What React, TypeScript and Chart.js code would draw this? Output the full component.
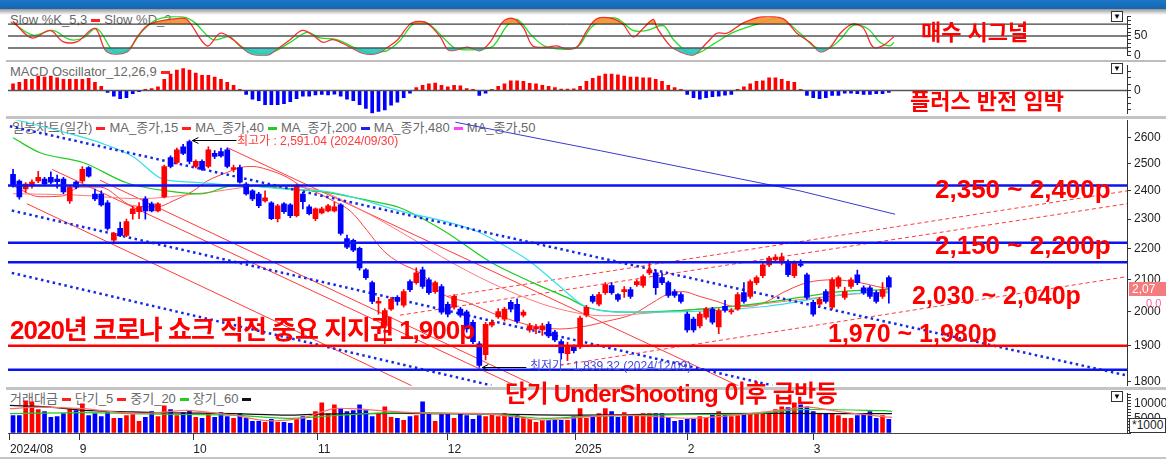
import React, { useEffect, useRef } from "react";
import { Chart, registerables } from "chart.js";
Chart.register(...registerables);

const FONT = "'Liberation Sans', 'Noto Sans CJK KR', Arial, sans-serif";

// ---------------- data ----------------
const opens = [2461,2436,2407,2418,2436,2443,2450,2443,2443,2364, 2432,2436,2486,2389,2389,2357,2228,2268,2244,2319, 2326,2371,2354,2329,2378,2524,2505,2565,2585,2490, 2509,2490,2540,2547,2553,2479,2486,2425,2400,2389, 2364,2357,2302,2354,2350,2312,2389,2343,2302,2322, 2329,2329,2350,2234,2228,2201,2131,2090,2026,1960, 2008,2044,2020,2093,2090,2131,2099,2062,2078,2023, 2014,2008,2000,1969,1906,1875,1960,1985,1978,2029, 2023,1990,1946,1949,1946,1963,1940,1912,1878,1897, 1897,1990,2047,2023,2059,2081,2053,2062,2068,2084, 2081,2121,2121,2106,2090,2062,2053,1993,1978,1958, 1984,2008,1955,2017,2000,2008,2059,2047,2090,2112, 2147,2163,2153,2157,2112,2150,2115,2029,2023,2062, 2014,2078,2044,2078,2115,2074,2074,2059,2047,2106];
const highs = [2479,2440,2430,2440,2472,2450,2470,2458,2450,2418, 2436,2490,2490,2407,2400,2365,2255,2290,2300,2345, 2358,2380,2360,2358,2495,2530,2560,2575,2591.04,2515, 2515,2565,2550,2560,2560,2495,2495,2430,2405,2395, 2400,2362,2352,2358,2355,2425,2395,2350,2340,2342, 2352,2360,2355,2245,2232,2205,2135,2095,2044,2010, 2044,2050,2068,2099,2137,2140,2105,2095,2084,2030, 2053,2014,2005,1975,1912,1969,1975,2010,2014,2035, 2040,2005,1966,1963,1966,1970,1945,1918,1910,1903, 1987,2020,2053,2060,2090,2090,2056,2078,2075,2099, 2115,2153,2128,2121,2095,2068,2059,1999,1984,1999, 2014,2014,2010,2035,2010,2059,2090,2099,2112,2153, 2175,2180,2185,2163,2160,2163,2120,2035,2044,2068, 2105,2112,2075,2105,2130,2080,2080,2065,2090,2112];
const lows = [2414,2370,2395,2410,2430,2418,2425,2410,2390,2355, 2407,2430,2450,2365,2345,2262,2218,2240,2240,2300, 2302,2300,2325,2325,2375,2485,2500,2535,2500,2485, 2475,2485,2520,2525,2485,2470,2428,2385,2365,2340, 2360,2298,2290,2320,2305,2308,2336,2315,2295,2318, 2325,2325,2245,2200,2190,2130,2100,2025,1993,1906, 2004,2020,2014,2062,2085,2072,2053,2056,1993,1985, 2008,1984,1940,1906,1839.32,1860,1955,1980,1972,2000, 1966,1985,1940,1935,1930,1924,1912,1862,1858,1880, 1892,1985,2026,2018,2053,2053,2032,2044,2041,2078, 2075,2115,2053,2084,2044,2044,2026,1940,1940,1952, 1978,1963,1935,1999,1993,2004,2026,2041,2084,2106, 2141,2157,2147,2109,2106,2140,2038,1987,2017,2026, 2008,2072,2038,2072,2084,2053,2041,2026,2041,2026];
const closes = [2418,2378,2425,2432,2450,2425,2432,2434,2396,2414, 2414,2479,2454,2371,2350,2268,2251,2244,2292,2336, 2343,2329,2329,2354,2490,2490,2553,2540,2509,2509, 2479,2553,2528,2530,2490,2486,2432,2389,2371,2347, 2375,2302,2347,2326,2312,2418,2361,2319,2336,2336, 2347,2343,2251,2205,2195,2137,2106,2032,2032,2004, 2038,2032,2062,2068,2121,2078,2059,2090,1999,1993, 2047,1990,1949,1912,1845,1963,1969,2001,2008,2008, 1972,1999,1958,1955,1958,1929,1917,1880,1897,1886, 1981,2014,2032,2053,2084,2059,2038,2068,2047,2093, 2109,2131,2074,2090,2050,2050,2032,1946,1946,1993, 2008,1969,2004,2004,2004,2053,2032,2093,2106,2147, 2169,2172,2172,2115,2153,2145,2044,1993,2038,2032, 2099,2106,2062,2099,2090,2059,2047,2032,2068,2076];

const volumes = [5940,5940,10890,10560,7920,7260,5280,5610,6600,8250, 7590,9900,5940,6600,5610,6930,4950,4950,5940,6270, 3960,5280,7260,5610,9240,7920,5940,6930,7590,5280, 4950,6600,5280,6930,5610,4950,6600,4950,3960,3960, 3630,4620,3630,3630,3300,4620,5610,4290,7260,10230, 6600,9570,8250,7260,7590,9570,7590,5610,6600,8910, 5280,4950,4290,5610,5940,10560,6600,3960,6600,6600, 4950,6600,5940,4620,5940,5610,6270,5610,6600,5940, 5940,5280,4620,3630,4290,4290,4290,4290,4290,5610, 8250,4950,5280,6600,8250,7260,5280,6930,5940,5940, 6600,6600,6600,6600,5280,3960,4290,4620,4620,5610, 5280,6270,7260,6600,5610,5940,6270,6600,6600,6600, 6600,7920,8910,8580,10230,9570,8910,7260,6600,6600, 6600,5940,4950,4950,5940,6600,7260,4950,5940,4620];

const macdOsc = [3.65,4.5,6.15,6.15,7.85,7.35,7.85,7,6.15,6.15, 6.15,6.15,6.65,4.5,2.35,-1,-3,-4.35,-3.85,-1.65, -0.65,0.65,1.15,2,6.15,9,11.15,12,11.15,9.5, 8.35,8.35,7.35,6.15,4.5,2.85,0.65,-2.15,-4.65,-5.5, -7.65,-7.65,-7.65,-7.15,-6,-4.35,-3,-3,-2.35,-2.15, -2.35,-2,-3,-4.65,-5.5,-7.65,-9.65,-12.15,-11.35,-10.5, -8,-6.35,-3.85,-1.35,1.65,2.85,3.65,4.15,2.85,2, 2.85,2.65,1.15,0.65,-2.65,-1.35,0.65,2.35,3.65,5.35, 5.35,5,4,3.65,2.85,2.35,1.65,0.85,0.85,1, 2.35,5,6.65,7.85,9,9,8.65,7.85,7.35,7.35, 7,7,6.15,5,2.85,1.65,0.65,-2.15,-3.85,-4.65, -3.85,-3.35,-3,-2.5,-2.15,0.65,2,3.65,5,5.35, 7,7,6.15,5,4.5,0.65,-2.65,-3.85,-4.35,-3.85, -2.65,-2.65,-1.35,-1.35,-1.65,-2.15,-2.15,-1.65,-1.65,-1];

const stochK = [[0,87],[3,45],[5.9,64],[7.9,36],[10.2,36],[13,69],[14.9,10],[18.1,10],[19.7,48],[21.7,80],[26,94],[27.6,92],[30.8,25],[32.9,57],[34.9,41],[37.6,6],[40.3,1],[41.9,17],[44,41],[45.9,64],[47.6,52],[49.2,34],[50.8,41],[53.5,22],[55.6,6],[57.8,6],[59.5,22],[61,40],[63,80],[64.3,87],[65.7,83],[67.8,48],[68.9,17],[69.8,13],[72.1,22],[74.1,13],[75.7,34],[77.8,87],[79.4,94],[81,71],[82.5,25],[84.8,22],[86.3,25],[87.9,17],[89.5,22],[91.1,64],[92.7,94],[95.2,94],[96.8,80],[98.4,48],[100,69],[101.6,92],[102.2,71],[104.3,25],[105.9,10],[107.9,1],[110.2,34],[111.7,57],[113.3,57],[115.9,83],[119,99],[122.2,94],[124.4,57],[126.5,34],[128.1,10],[129.7,22],[131.3,57],[133.2,80],[134.9,71],[136.5,22],[138,25],[139.8,48]];
const stochD = [[0,83],[3.2,52],[6.3,64],[9,41],[11.1,45],[13.3,69],[15.9,13],[18.1,13],[20.6,64],[22.9,92],[26.5,99],[28.6,87],[31.7,41],[34.4,48],[36,25],[39.2,6],[41.3,10],[44,34],[46.7,59],[48.7,45],[51.4,41],[54,22],[57.1,6],[58.3,10],[59.4,13],[61.4,38],[63.5,80],[65.7,83],[68.9,36],[70.5,17],[74.1,17],[76.2,25],[78.4,76],[80,92],[82.5,48],[84.8,22],[89.5,22],[91.6,69],[93.7,92],[95.9,94],[98.4,64],[100.6,64],[103.2,76],[104.8,41],[107,10],[108.6,6],[111.1,29],[114.3,59],[118.1,80],[121.7,94],[124.9,57],[127,25],[129.2,17],[131.3,41],[133.3,76],[135.6,69],[137.6,34],[139.2,25],[139.8,34]];
const stochLevels = [80, 50, 20];

const ma15 = [[0,2418],[4.3,2379],[7.9,2382],[10.6,2414],[13.8,2414],[19,2347],[22.9,2343],[25.4,2364],[28.6,2400],[30.8,2436],[34,2468],[36,2486],[38.1,2490],[40.3,2479],[43.5,2450],[46,2414],[48.7,2389],[50.8,2364],[53.5,2329],[56.2,2261],[58.7,2195],[61.4,2153],[64.6,2121],[68.3,2053],[72.1,2029],[77.3,1987],[82.5,1958],[86.8,1949],[91.1,1958],[94.3,1972],[98.4,1993],[101.6,2029],[103.8,2053],[106.3,2062],[109,2047],[111.7,2032],[114.3,2017],[117,2017],[119.7,2032],[122.2,2059],[126,2090],[130.2,2099],[134.4,2090],[137.1,2078],[139,2071]];
const ma40 = [[0,2390],[10,2385],[20,2372],[30,2392],[40,2418],[48,2405],[55,2335],[62,2250],[70,2150],[78,2070],[86,2012],[94,1988],[102,1998],[110,2010],[118,2022],[126,2040],[134,2055],[139,2062]];
const ma200 = [[0,2600],[4.3,2542],[11.1,2505],[18.1,2429],[24.4,2400],[29.7,2389],[34.9,2418],[40.3,2414],[45.6,2404],[50.3,2393],[56.7,2364],[61.4,2340],[68.3,2261],[75.7,2157],[82.5,2090],[87.9,2044],[91.1,2014],[94.3,2002],[98.4,1999],[103.8,2002],[109,2008],[114.3,2017],[119.7,2029],[124.9,2044],[131.3,2062],[139,2068]];
const ma50 = [[-0.8,2680],[8.6,2619],[13.8,2581],[19,2528],[23.8,2443],[28.6,2432],[32.4,2425],[37.6,2418],[42.9,2407],[50.3,2396],[61.4,2329],[73.3,2261],[77.3,2218],[82.1,2157],[86.8,2078],[91.1,2014],[98.4,1999],[109,2002],[119.7,2017],[124.9,2032],[131.7,2053],[139,2059]];
const ma480 = [[70.2,2662],[93.2,2550],[109,2474],[124.9,2400],[140,2317]];

const supportBlue = [2420, 2220, 2155, 1833];
const supportRed = [1900];
const blueDotLines = [[[-0.5,2646],[176.8,1817]], [[-0.2,2330],[120.5,1790]], [[-0.2,2121],[75.9,1790]]];
const redChannelLines = [[[6.2,2479],[79.8,1789]], [[2.2,2354],[63.3,1789]], [[13.8,2439],[82.9,1789]], [[34,2562],[115.1,1789]]];
const redDashLines = [[[67.8,2044],[176.8,2400]], [[61.4,1990],[176.8,2354]], [[86.8,1845],[176.8,2109]]];

const volMA5 = [[-0.5,8250],[4.3,8800],[11.1,8250],[19,6600],[24.4,7150],[27.6,7700],[34.9,6050],[40.3,4180],[45.6,4950],[50.8,8250],[53.5,8250],[56.2,7920],[61.4,7150],[66.7,6600],[74.7,6600],[77.3,6050],[84.1,4400],[90.9,5500],[97.6,6050],[107.8,4950],[114.6,6050],[121.4,7700],[126.1,8800],[131.5,7150],[138.3,5500],[139.5,5300]];
const volMA20 = [[-0.5,6600],[11.1,6930],[19,6600],[27,6270],[34.9,6050],[43.5,4950],[48.3,5500],[56.2,6600],[64.1,6930],[77.3,6200],[84.1,4950],[90.9,5610],[107.8,6270],[118,6600],[124.8,7920],[138.3,7590],[139.5,7300]];
const volMA60 = [[-0.5,9350],[5.9,8800],[11.1,7700],[19,7150],[24.4,6820],[34.9,6600],[43.5,6050],[48.3,6380],[56.2,6600],[66.7,6600],[77.3,6380],[90.9,6050],[111.2,6600],[131.5,6600],[139.5,6600]];

const priceTicks = [1800, 1900, 2000, 2100, 2200, 2300, 2400, 2500, 2600];
const stochTicks = [0, 10, 20, 30, 40, 50, 60, 70, 80, 90, 100];
const stochTickLabels = ["0", "50"];
const macdTicks = [-10.5, -7, -3.5, 0, 3.5, 7, 10.5];
const volTicks = [0, 1000, 2000, 3000, 4000, 5000, 6000, 7000, 8000, 9000, 10000, 11000, 12000, 13000];
const volTickLabels = ["5000", "10000"];
const monthTickPos = [-0.5, 10.6, 28.6, 48.4, 69, 89.2, 107.1, 127.1];
const monthTickLabels = ["2024/08", "9", "10", "11", "12", "2025", "2", "3"];
const extremeMarks = [[28, 2591.04], [74, 1839.32]];

// ---------------- helpers ----------------
const X_MIN = -0.8;
const X_MAX = 176.8;
const RED = "#ff0000";
const BLUE = "#0000ff";
const pts = (arr: number[][]) => arr.map(([x, y]) => ({ x, y }));
const hline = (v: number) => [{ x: X_MIN, y: v }, { x: X_MAX, y: v }];
const candleColor = (i: number) => (closes[i] >= opens[i] ? RED : BLUE);

const xHidden = { type: "linear", min: X_MIN, max: X_MAX, display: false, offset: false, grid: { offset: false } };
const rightAxis = (extra: any) => ({
  position: "right",
  afterFit: (s: any) => { s.width = 39; },
  border: { display: true, color: "#333", width: 1 },
  grid: { drawOnChartArea: false, drawTicks: true, tickLength: 4, color: "#333" },
  ...extra,
  ticks: { color: "#222", font: { size: 12, family: FONT }, padding: 3, autoSkip: false, ...(extra.ticks || {}) },
});
const fixedTicks = (vals: number[]) => (s: any) => { s.ticks = vals.map((v) => ({ value: v })); };
const baseOpts = (x: any, y: any, bottomPad = 8) => ({
  responsive: false,
  animation: false,
  events: [],
  layout: { padding: { left: 8, right: 0, top: 8, bottom: bottomPad } },
  plugins: { legend: { display: false }, tooltip: { enabled: false } },
  elements: { point: { radius: 0 } },
  scales: { x, y },
});
const lineDs = (data: any, color: string, width: number, extra: any = {}) => ({
  type: "line", data, borderColor: color, borderWidth: width, pointRadius: 0, fill: false, ...extra,
});

const arrowPlugin = {
  id: "arrowPlugin",
  afterDatasetsDraw(chart: any) {
    const { ctx } = chart;
    const xs = chart.scales.x, ys = chart.scales.y;
    ctx.save();
    ctx.strokeStyle = "#000";
    ctx.lineWidth = 1;
    extremeMarks.forEach(([i, v]) => {
      const px = xs.getPixelForValue(i) + 3;
      const py = Math.round(ys.getPixelForValue(v)) + 0.5;
      ctx.beginPath(); ctx.moveTo(px, py); ctx.lineTo(px + 44, py); ctx.stroke();
      ctx.beginPath(); ctx.moveTo(px + 6, py - 3); ctx.lineTo(px, py); ctx.lineTo(px + 6, py + 3); ctx.stroke();
    });
    ctx.restore();
  },
};

export default function App() {
  const stochRef = useRef<HTMLCanvasElement>(null);
  const macdRef = useRef<HTMLCanvasElement>(null);
  const mainRef = useRef<HTMLCanvasElement>(null);
  const volRef = useRef<HTMLCanvasElement>(null);

  useEffect(() => {
    Chart.defaults.font.family = FONT;
    const charts: Chart[] = [];

    // Stochastic
    charts.push(new Chart(stochRef.current as any, {
      type: "line",
      data: {
        datasets: [
          ...stochLevels.map((v, k) => lineDs(hline(v), k === 0 ? "#111" : "#555", k === 0 ? 1 : 1.5)),
          lineDs(pts(stochK), "rgba(0,0,0,0)", 0, { tension: 0.35, fill: { target: { value: 20 }, above: "rgba(0,0,0,0)", below: "rgba(40,200,190,0.9)" } }),
          lineDs(pts(stochK), "#ff2a2a", 1.3, { tension: 0.35, fill: { target: { value: 80 }, above: "rgba(240,150,60,0.95)", below: "rgba(0,0,0,0)" } }),
          lineDs(pts(stochD), "#22e022", 1.3, { tension: 0.35 }),
        ],
      },
      options: baseOpts(xHidden, rightAxis({
        min: 0, max: 100,
        afterBuildTicks: fixedTicks(stochTicks),
        ticks: { callback: (v: number) => (stochTickLabels.includes(String(v)) ? String(v) : "") },
      })) as any,
    }));

    // MACD oscillator
    charts.push(new Chart(macdRef.current as any, {
      type: "bar",
      data: {
        datasets: [
          lineDs(hline(0), "#555", 1.5, { order: 1 }),
          {
            type: "bar",
            data: macdOsc.map((v, i) => ({ x: i, y: v })),
            backgroundColor: macdOsc.map((v) => (v >= 0 ? RED : BLUE)),
            barThickness: 3, grouped: false, order: 2,
          },
        ],
      } as any,
      options: baseOpts(xHidden, rightAxis({
        min: -12.65, max: 13.85,
        afterBuildTicks: fixedTicks(macdTicks),
        ticks: { callback: (v: number) => (Math.abs(v) < 1e-6 ? "0" : "") },
      })) as any,
    }));

    // Main price chart
    const lineSets: any[] = [
      ...redChannelLines.map((l) => lineDs(pts(l), "#ff3b3b", 1, { order: 20 })),
      ...redDashLines.map((l) => lineDs(pts(l), "#ff3b3b", 1, { borderDash: [4, 3], order: 20 })),
      lineDs(pts(ma480), "#3a3acc", 1, { order: 19 }),
      lineDs(pts(ma50), "#35e0e8", 1.2, { tension: 0.4, cubicInterpolationMode: "monotone", order: 19 }),
      lineDs(pts(ma200), "#1fcc1f", 1.2, { tension: 0.4, cubicInterpolationMode: "monotone", order: 19 }),
      lineDs(pts(ma40), "#ff7a7a", 1, { tension: 0.4, cubicInterpolationMode: "monotone", order: 19 }),
      lineDs(pts(ma15), "#ff4040", 1, { tension: 0.4, cubicInterpolationMode: "monotone", order: 19 }),
      ...blueDotLines.map((l) => lineDs(pts(l), "#1428e6", 2.5, { borderDash: [2.5, 3.5], order: 18 })),
      {
        type: "bar",
        data: highs.map((h, i) => ({ x: i, y: [lows[i], h] })),
        backgroundColor: highs.map((_, i) => candleColor(i)),
        barThickness: 1, grouped: false, order: 10,
      },
      {
        type: "bar",
        data: opens.map((o, i) => ({ x: i, y: [Math.min(o, closes[i]), Math.max(o, closes[i])] })),
        backgroundColor: opens.map((_, i) => candleColor(i)),
        barThickness: 5, grouped: false, minBarLength: 1, order: 9,
      },
      ...supportBlue.map((v) => lineDs(hline(v), "#0a14f0", 2.5, { order: 2 })),
      ...supportRed.map((v) => lineDs(hline(v), "#ff0000", 2.5, { order: 2 })),
    ];
    charts.push(new Chart(mainRef.current as any, {
      type: "bar",
      data: { datasets: lineSets },
      options: baseOpts(xHidden, rightAxis({
        type: "logarithmic", min: 1789, max: 2670,
        afterBuildTicks: fixedTicks(priceTicks),
        ticks: { callback: (v: number) => String(v) },
      })) as any,
      plugins: [arrowPlugin],
    }));

    // Volume
    charts.push(new Chart(volRef.current as any, {
      type: "bar",
      data: {
        datasets: [
          {
            type: "bar",
            data: volumes.map((v, i) => ({ x: i, y: v })),
            backgroundColor: volumes.map((_, i) => candleColor(i)),
            barThickness: 4, grouped: false, order: 5,
          },
          lineDs(pts(volMA5), "#ff6a6a", 1.2, { tension: 0.3, order: 1 }),
          lineDs(pts(volMA20), "#22cc22", 1.2, { tension: 0.3, order: 1 }),
          lineDs(pts(volMA60), "#111111", 1.2, { tension: 0.3, order: 1 }),
        ],
      } as any,
      options: baseOpts(
        {
          type: "linear", min: X_MIN, max: X_MAX, offset: false, position: "bottom",
          afterBuildTicks: fixedTicks(monthTickPos),
          afterFit: (s: any) => { s.height = 26; },
          grid: { drawOnChartArea: false, drawTicks: true, tickLength: 7, color: "#333", offset: false },
          border: { display: true, color: "#444" },
          ticks: {
            autoSkip: false, maxRotation: 0, align: "start", padding: 2, color: "#222",
            font: { size: 12, family: FONT },
            callback: (_v: number, idx: number) => monthTickLabels[idx],
          },
        },
        rightAxis({
          min: 0, max: 13500,
          afterBuildTicks: fixedTicks(volTicks),
          ticks: { callback: (v: number) => (volTickLabels.includes(String(v)) ? String(v) : "") },
        }),
        0
      ) as any,
    }));

    return () => charts.forEach((c) => c.destroy());
  }, []);

  const abs = (left: number, top: number, extra: any = {}) => ({ position: "absolute" as const, left, top, ...extra });
  const big = (left: number, top: number, size: number, ls = 0) =>
    abs(left, top, { color: "#ff0000", fontWeight: 700, fontSize: size, lineHeight: 1, whiteSpace: "nowrap", letterSpacing: ls });
  const mk = (color: string) => (
    <span style={{ display: "inline-block", width: 9, height: 3, background: color, margin: "0 4px", verticalAlign: "middle" }} />
  );
  const legendStyle = (left: number, top: number) =>
    abs(left, top, { color: "#6a6a6a", fontSize: 13, lineHeight: "14px", whiteSpace: "nowrap" });
  const icon = (top: number) => (
    <div style={abs(1111, top, { width: 10, height: 9, border: "1px solid #333", background: "#fff", fontSize: 8, lineHeight: "9px", textAlign: "center", color: "#000" })}>▼</div>
  );

  return (
    <div style={{ position: "absolute", left: 0, top: 0, width: 1166, height: 462, background: "#fff", overflow: "hidden", fontFamily: FONT }}>
      <div style={legendStyle(10, 13)}>Slow %K_5,3{mk("#ff2020")}Slow %D_3</div>
      <div style={legendStyle(10, 65)}>MACD Oscillator_12,26,9{mk("#ff2020")}</div>
      <div style={legendStyle(12, 121)}>
        일봉차트(일간){mk("#ff2020")}MA_종가,15{mk("#ff2020")}MA_종가,40{mk("#22cc22")}MA_종가,200{mk("#2020ee")}MA_종가,480{mk("#ff40ff")}MA_종가,50
      </div>
      <div style={legendStyle(10, 392)}>
        거래대금{mk("#ff2020")}단기_5{mk("#ff2020")}중기_20{mk("#22cc22")}장기_60{mk("#111")}
      </div>

      <canvas ref={stochRef} width={1166} height={60} style={abs(0, 6)} />
      <canvas ref={macdRef} width={1166} height={69} style={abs(0, 55)} />
      <canvas ref={mainRef} width={1166} height={286} style={abs(0, 110)} />
      <canvas ref={volRef} width={1166} height={76} style={abs(0, 383)} />

      <div style={abs(0, 0, { width: 1166, height: 9, background: "linear-gradient(#1c78c8,#1565b0)" })} />
      <div style={abs(0, 9, { width: 1166, height: 6, background: "linear-gradient(rgba(80,80,80,0.6), rgba(255,255,255,0))" })} />
      <div style={abs(6, 60, { width: 1160, height: 2, background: "#bdbdbd" })} />
      <div style={abs(6, 116, { width: 1160, height: 3, background: "#c4c4c4" })} />
      <div style={abs(6, 387, { width: 1160, height: 3, background: "#c4c4c4" })} />
      <div style={abs(0, 457, { width: 1166, height: 2, background: "#c4c4c4" })} />

      {icon(11)}
      {icon(63)}
      {icon(391)}

      <div style={abs(237, 134, { color: "#ff3a3a", fontSize: 12, lineHeight: "14px", whiteSpace: "nowrap" })}>최고가 : 2,591.04 (2024/09/30)</div>
      <div style={abs(530, 359, { color: "#4848d8", fontSize: 12, lineHeight: "14px", whiteSpace: "nowrap" })}>최저가 : 1,839.32 (2024/12/09)</div>

      <div style={big(921, 22, 22)}>매수 시그널</div>
      <div style={big(910, 91, 22)}>플러스 반전 임박</div>
      <div style={big(935, 176, 26)}>2,350 ~ 2,400p</div>
      <div style={big(935, 232, 26)}>2,150 ~ 2,200p</div>
      <div style={big(912, 283, 25)}>2,030 ~ 2,040p</div>
      <div style={big(828, 321, 25)}>1,970 ~ 1,980p</div>
      <div style={big(10, 317, 26, -1)}>2020년 코로나 쇼크 직전 중요 지지권 1,900p</div>
      <div style={big(505, 382, 24, -0.7)}>단기 UnderShooting 이후 급반등</div>

      <div style={abs(1129, 282, { width: 37, height: 14, background: "#f47c7c", color: "#fff", fontSize: 12, lineHeight: "14px", paddingLeft: 3, whiteSpace: "nowrap", overflow: "hidden" })}>2,07</div>
      <div style={abs(1146, 297, { color: "#ff5fa0", fontSize: 11, lineHeight: "12px" })}>0.0</div>
      <div style={abs(1129, 418, { border: "1px solid #333", background: "#fff", fontSize: 12, lineHeight: "13px", padding: "0 2px", whiteSpace: "nowrap", color: "#222" })}>*1000</div>
    </div>
  );
}
